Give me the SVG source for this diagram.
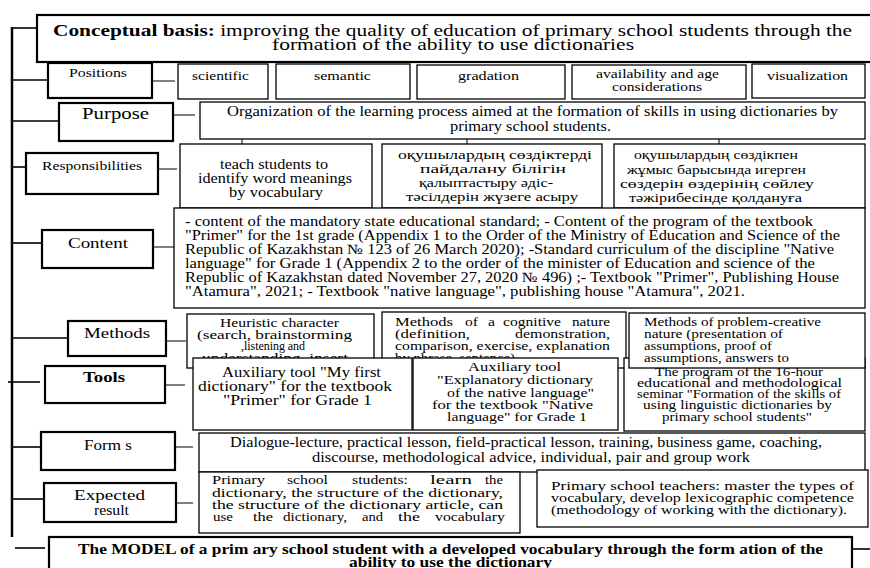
<svg xmlns="http://www.w3.org/2000/svg" width="870" height="568" viewBox="0 0 870 568">
<style>
text{font-family:"Liberation Serif","Times New Roman",serif;fill:#000}
.lb{fill:#fff;stroke:#000;stroke-width:2.2}
.bx{fill:#fff;stroke:#000;stroke-width:1.3}
.tr{stroke:#000;stroke-width:2.5;fill:none}
.st{stroke:#000;stroke-width:1.6;fill:none}
.ln{stroke:#000;stroke-width:1;fill:none}
</style>
<rect width="870" height="568" fill="#fff"/>
<g id="connectors">
<line class="tr" x1="12" y1="27" x2="12" y2="537"/>
<line class="st" x1="12" y1="28" x2="37" y2="28"/>
<line class="st" x1="12" y1="80" x2="48" y2="80"/>
<line class="st" x1="12" y1="121" x2="59" y2="121"/>
<line class="st" x1="12" y1="167" x2="26" y2="167"/>
<line class="st" x1="12" y1="243" x2="42" y2="243"/>
<line class="st" x1="12" y1="338" x2="68" y2="338"/>
<line class="st" x1="8" y1="382" x2="40" y2="382"/>
<line class="st" x1="12" y1="447" x2="41" y2="447"/>
<line class="st" x1="12" y1="499" x2="44" y2="499"/>
<line class="st" x1="15" y1="548" x2="45" y2="548"/>
<line class="ln" x1="152" y1="81" x2="175" y2="81"/>
<line class="ln" x1="173" y1="115" x2="195" y2="115"/>
<line class="ln" x1="155" y1="169" x2="177" y2="169"/>
<line class="ln" x1="153" y1="247" x2="174" y2="247"/>
<line class="ln" x1="166" y1="341" x2="186" y2="341"/>
<line class="ln" x1="166" y1="385" x2="185" y2="385"/>
<line class="ln" x1="175" y1="447" x2="193" y2="447"/>
<line class="ln" x1="176" y1="503" x2="193" y2="503"/>
<line class="st" x1="852" y1="549" x2="870" y2="549"/>
<line class="ln" x1="242" y1="139" x2="242" y2="144"/>
<line class="ln" x1="467" y1="139" x2="467" y2="144"/>
<line class="ln" x1="719" y1="139" x2="719" y2="144"/>
</g>
<g id="title">
<rect class="lb" x="37" y="15" width="836" height="47"/>
<text x="53" y="36" font-size="16" textLength="799" lengthAdjust="spacingAndGlyphs"><tspan font-weight="bold">Conceptual basis:</tspan> improving the quality of education of primary school students through the</text>
<text x="272" y="50" font-size="16" textLength="362" lengthAdjust="spacingAndGlyphs">formation of the ability to use dictionaries</text>
</g>
<g id="positions">
<rect class="lb" x="48" y="63" width="104" height="35"/>
<text x="69" y="77" font-size="12" textLength="58" lengthAdjust="spacingAndGlyphs">Positions</text>
</g>
<g id="pos-scientific"><rect class="bx" x="178" y="64" width="90" height="35"/><text x="192" y="80" font-size="12.5" textLength="57" lengthAdjust="spacingAndGlyphs">scientific</text></g>
<g id="pos-semantic"><rect class="bx" x="276" y="64" width="134" height="35"/><text x="314" y="80" font-size="12.5" textLength="57" lengthAdjust="spacingAndGlyphs">semantic</text></g>
<g id="pos-gradation"><rect class="bx" x="417" y="65" width="148" height="34"/><text x="458" y="80" font-size="12.5" textLength="61" lengthAdjust="spacingAndGlyphs">gradation</text></g>
<g id="pos-availability"><rect class="bx" x="572" y="65" width="174" height="34"/><text x="596" y="78" font-size="12" textLength="123" lengthAdjust="spacingAndGlyphs">availability and age</text><text x="612" y="91" font-size="12" textLength="90" lengthAdjust="spacingAndGlyphs">considerations</text></g>
<g id="pos-visualization"><rect class="bx" x="752" y="64" width="113" height="34"/><text x="767" y="80" font-size="12.5" textLength="81" lengthAdjust="spacingAndGlyphs">visualization</text></g>
<g id="purpose">
<rect class="lb" x="59" y="103" width="114" height="38"/>
<text x="82" y="119" font-size="17" textLength="67" lengthAdjust="spacingAndGlyphs">Purpose</text>
</g>
<g id="purpose-text">
<rect class="bx" x="200" y="102" width="665" height="37"/>
<text x="227" y="116" font-size="14" textLength="611" lengthAdjust="spacingAndGlyphs">Organization of the learning process aimed at the formation of skills in using dictionaries by</text>
<text x="450" y="131" font-size="14" textLength="161" lengthAdjust="spacingAndGlyphs">primary school students.</text>
</g>
<g id="responsibilities">
<rect class="lb" x="26" y="153" width="132" height="41"/>
<text x="42" y="170" font-size="12" textLength="100" lengthAdjust="spacingAndGlyphs">Responsibilities</text>
</g>
<g id="resp-1">
<rect class="bx" x="180" y="144" width="192" height="64"/>
<text x="220" y="169" font-size="15" textLength="108" lengthAdjust="spacingAndGlyphs">teach students to</text>
<text x="198" y="183" font-size="15" textLength="154" lengthAdjust="spacingAndGlyphs">identify word meanings</text>
<text x="229" y="197" font-size="15" textLength="94" lengthAdjust="spacingAndGlyphs">by vocabulary</text>
</g>
<g id="resp-2">
<rect class="bx" x="382" y="144" width="220" height="64"/>
<text x="398" y="159" font-size="13.5" textLength="194" lengthAdjust="spacingAndGlyphs">оқушылардың сөздіктерді</text>
<text x="420" y="173" font-size="13.5" textLength="146" lengthAdjust="spacingAndGlyphs">пайдалану білігін</text>
<text x="419" y="187" font-size="13.5" textLength="134" lengthAdjust="spacingAndGlyphs">қалыптастыру әдіс-</text>
<text x="406" y="201" font-size="13.5" textLength="172" lengthAdjust="spacingAndGlyphs">тәсілдерін жүзеге асыру</text>
</g>
<g id="resp-3">
<rect class="bx" x="614" y="144" width="251" height="64"/>
<text x="634" y="159" font-size="13.5" textLength="164" lengthAdjust="spacingAndGlyphs">оқушылардың сөздікпен</text>
<text x="627" y="174" font-size="13.5" textLength="179" lengthAdjust="spacingAndGlyphs">жұмыс барысында игерген</text>
<text x="620" y="188" font-size="13.5" textLength="194" lengthAdjust="spacingAndGlyphs">сөздерін өздерінің сөйлеу</text>
<text x="629" y="202" font-size="13.5" textLength="173" lengthAdjust="spacingAndGlyphs">тәжірибесінде қолдануға</text>
</g>
<g id="content">
<rect class="lb" x="42" y="230" width="111" height="38"/>
<text x="68" y="248" font-size="15" textLength="60" lengthAdjust="spacingAndGlyphs">Content</text>
</g>
<g id="content-text">
<rect class="bx" x="174" y="208" width="691" height="100"/>
<text x="185" y="226" font-size="14" textLength="628" lengthAdjust="spacingAndGlyphs">- content of the mandatory state educational  standard; - Content of the program of the textbook</text>
<text x="185" y="240" font-size="14" textLength="655" lengthAdjust="spacingAndGlyphs">"Primer" for the 1st grade (Appendix 1 to the Order of the Ministry of Education and Science of the</text>
<text x="185" y="254" font-size="14" textLength="649" lengthAdjust="spacingAndGlyphs">Republic of Kazakhstan № 123 of 26 March 2020); -Standard curriculum of the discipline "Native</text>
<text x="185" y="268" font-size="14" textLength="630" lengthAdjust="spacingAndGlyphs">language" for Grade 1 (Appendix 2 to the order of the minister of Education and science of the</text>
<text x="185" y="282" font-size="14" textLength="654" lengthAdjust="spacingAndGlyphs">Republic of Kazakhstan dated November 27, 2020 № 496) ;- Textbook "Primer", Publishing House</text>
<text x="185" y="296" font-size="14" textLength="560" lengthAdjust="spacingAndGlyphs">"Atamura", 2021; - Textbook "native language", publishing house "Atamura", 2021.</text>
</g>
<g id="methods">
<rect class="lb" x="68" y="321" width="98" height="35"/>
<text x="84" y="338" font-size="15" textLength="66" lengthAdjust="spacingAndGlyphs">Methods</text>
</g>
<g id="method-1">
<rect class="bx" x="187" y="314" width="187" height="54"/>
<text x="220" y="327" font-size="12.5" textLength="119" lengthAdjust="spacingAndGlyphs">Heuristic character</text>
<text x="197" y="339" font-size="12.5" textLength="155" lengthAdjust="spacingAndGlyphs">(search, brainstorming</text>
<text x="241" y="350" font-size="12" textLength="64" lengthAdjust="spacing">,listening and</text>
<text x="202" y="362" font-size="12.5" textLength="146" lengthAdjust="spacingAndGlyphs">understanding, insert</text>
</g>
<g id="method-2">
<rect class="bx" x="382" y="312" width="244" height="56"/>
<text y="326" font-size="12"><tspan x="395" textLength="58" lengthAdjust="spacingAndGlyphs">Methods</tspan><tspan x="465" textLength="13" lengthAdjust="spacingAndGlyphs">of</tspan><tspan x="488" textLength="7" lengthAdjust="spacingAndGlyphs">a</tspan><tspan x="503" textLength="58" lengthAdjust="spacingAndGlyphs">cognitive</tspan><tspan x="572" textLength="38" lengthAdjust="spacingAndGlyphs">nature</tspan></text>
<text y="338" font-size="12"><tspan x="395" textLength="75" lengthAdjust="spacingAndGlyphs">(definition,</tspan><tspan x="515" textLength="95" lengthAdjust="spacingAndGlyphs">demonstration,</tspan></text>
<text x="395" y="350" font-size="12" textLength="215" lengthAdjust="spacingAndGlyphs">comparison, exercise, explanation</text>
<text x="395" y="362" font-size="12" textLength="120" lengthAdjust="spacingAndGlyphs">by phrase, sentence)</text>
</g>
<g id="tools">
<rect class="lb" x="45" y="366" width="120" height="37"/>
<text x="83" y="382" font-size="15" font-weight="bold" textLength="42" lengthAdjust="spacingAndGlyphs">Tools</text>
</g>
<g id="tool-1">
<rect class="bx" x="193" y="358" width="219" height="72"/>
<text x="222" y="377" font-size="14.5" textLength="159" lengthAdjust="spacingAndGlyphs">Auxiliary tool "My first</text>
<text x="198" y="391" font-size="14.5" textLength="194" lengthAdjust="spacingAndGlyphs">dictionary"  for the textbook</text>
<text x="223" y="405" font-size="14.5" textLength="149" lengthAdjust="spacingAndGlyphs">"Primer" for Grade 1</text>
</g>
<g id="tool-2">
<rect class="bx" x="413" y="358" width="205" height="72"/>
<text x="468" y="371" font-size="13.5" textLength="93" lengthAdjust="spacingAndGlyphs">Auxiliary tool</text>
<text x="437" y="384" font-size="13.5" textLength="156" lengthAdjust="spacingAndGlyphs">"Explanatory dictionary</text>
<text x="447" y="397" font-size="13.5" textLength="147" lengthAdjust="spacingAndGlyphs">of the native language"</text>
<text x="432" y="409" font-size="13.5" textLength="161" lengthAdjust="spacingAndGlyphs">for the textbook "Native</text>
<text x="447" y="421" font-size="13.5" textLength="140" lengthAdjust="spacingAndGlyphs">language" for Grade 1</text>
</g>
<g id="tool-3">
<rect class="bx" x="624" y="358" width="241" height="73"/>
<text x="655" y="376" font-size="12" textLength="168" lengthAdjust="spacingAndGlyphs">The program of the 16-hour</text>
<text x="637" y="387" font-size="12" textLength="205" lengthAdjust="spacingAndGlyphs">educational and methodological</text>
<text x="637" y="398" font-size="12" textLength="204" lengthAdjust="spacingAndGlyphs">seminar "Formation of the skills of</text>
<text x="643" y="409" font-size="12" textLength="189" lengthAdjust="spacingAndGlyphs">using linguistic dictionaries by</text>
<text x="662" y="421" font-size="12" textLength="150" lengthAdjust="spacingAndGlyphs">primary school students"</text>
</g>
<g id="method-3">
<rect class="bx" x="629" y="313" width="236" height="55"/>
<text x="644" y="326" font-size="11.5" textLength="177" lengthAdjust="spacingAndGlyphs">Methods of problem-creative</text>
<text x="644" y="338" font-size="11.5" textLength="139" lengthAdjust="spacingAndGlyphs">nature (presentation of</text>
<text x="644" y="350" font-size="11.5" textLength="128" lengthAdjust="spacingAndGlyphs">assumptions, proof of</text>
<text x="644" y="362" font-size="11.5" textLength="145" lengthAdjust="spacingAndGlyphs">assumptions, answers to</text>
</g>
<g id="forms">
<rect class="lb" x="41" y="432" width="134" height="38"/>
<text x="84" y="450" font-size="15" textLength="48" lengthAdjust="spacingAndGlyphs">Form s</text>
</g>
<g id="forms-text">
<rect class="bx" x="199" y="433" width="666" height="39"/>
<text x="230" y="447" font-size="14" textLength="592" lengthAdjust="spacingAndGlyphs">Dialogue-lecture,  practical lesson, field-practical  lesson, training,  business game, coaching,</text>
<text x="312" y="462" font-size="14" textLength="438" lengthAdjust="spacingAndGlyphs">discourse, methodological  advice, individual,  pair and group work</text>
</g>
<g id="expected">
<rect class="lb" x="44" y="483" width="132" height="39"/>
<text x="74" y="500" font-size="14" textLength="71" lengthAdjust="spacingAndGlyphs">Expected</text>
<text x="94" y="515" font-size="14" textLength="35" lengthAdjust="spacingAndGlyphs">result</text>
</g>
<g id="result-students">
<rect class="bx" x="199" y="472" width="321" height="61"/>
<text y="484" font-size="13"><tspan x="212" textLength="53" lengthAdjust="spacingAndGlyphs">Primary</tspan><tspan x="287" textLength="41" lengthAdjust="spacingAndGlyphs">school</tspan><tspan x="352" textLength="56" lengthAdjust="spacingAndGlyphs">students:</tspan><tspan x="430" textLength="42" lengthAdjust="spacingAndGlyphs">learn</tspan><tspan x="485" textLength="18" lengthAdjust="spacingAndGlyphs">the</tspan></text>
<text x="212" y="497" font-size="13" textLength="291" lengthAdjust="spacingAndGlyphs">dictionary, the structure of the dictionary,</text>
<text x="212" y="509" font-size="13" textLength="291" lengthAdjust="spacingAndGlyphs">the structure of the dictionary article, can</text>
<text y="521" font-size="13"><tspan x="213" textLength="20" lengthAdjust="spacingAndGlyphs">use</tspan><tspan x="253" textLength="20" lengthAdjust="spacingAndGlyphs">the</tspan><tspan x="283" textLength="64" lengthAdjust="spacingAndGlyphs">dictionary,</tspan><tspan x="362" textLength="21" lengthAdjust="spacingAndGlyphs">and</tspan><tspan x="398" textLength="22" lengthAdjust="spacingAndGlyphs">the</tspan><tspan x="435" textLength="70" lengthAdjust="spacingAndGlyphs">vocabulary</tspan></text>
</g>
<g id="result-teachers">
<rect class="bx" x="537" y="470" width="331" height="57"/>
<text x="551" y="490" font-size="12" textLength="303" lengthAdjust="spacingAndGlyphs">Primary school teachers: master the types of</text>
<text x="551" y="502" font-size="12" textLength="303" lengthAdjust="spacingAndGlyphs">vocabulary, develop lexicographic competence</text>
<text x="551" y="514" font-size="12" textLength="296" lengthAdjust="spacingAndGlyphs">(methodology of working with the dictionary).</text>
</g>
<g id="model">
<rect class="lb" x="49" y="537" width="803" height="40"/>
<text x="78" y="554" font-size="15" font-weight="bold" textLength="745" lengthAdjust="spacingAndGlyphs">The MODEL  of a prim ary school student with a developed vocabulary through the form ation of the</text>
<text x="349" y="567" font-size="15" font-weight="bold" textLength="203" lengthAdjust="spacingAndGlyphs">ability to use the dictionary</text>
</g>
</svg>
